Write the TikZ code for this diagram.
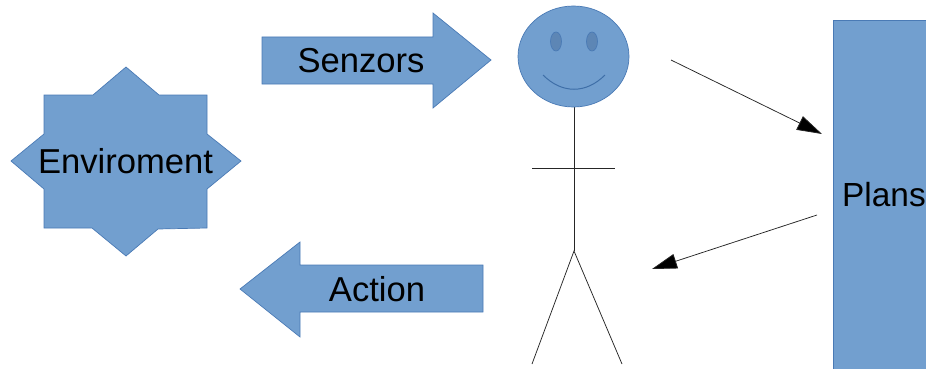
\documentclass[tikz,border=0pt]{standalone}
\usepackage{fontspec}
\setmainfont{Liberation Sans}
\usetikzlibrary{arrows.meta}
\definecolor{shapefill}{HTML}{729FCF}
\definecolor{shapeedge}{HTML}{4A7AB5}
\definecolor{faceline}{HTML}{3F6FA8}
\definecolor{eyefill}{HTML}{5D86B5}
\tikzset{
  blue shape/.style={fill=shapefill,draw=shapeedge,line width=0.7pt,line join=miter},
  thin line/.style={draw=black!85,line width=0.75pt},
  arrow line/.style={thin line,-{Triangle[length=25pt,width=15pt,fill=black]}},
  label text/.style={font=\fontsize{34.6pt}{40pt}\selectfont,text=black,inner sep=0pt,anchor=base},
}
\begin{document}
\begin{tikzpicture}[x=1pt,y=-1pt]
\useasboundingbox (0,0) rectangle (926,369);
\clip (0,0) rectangle (926,369);
% Environment star
\draw[blue shape] (126,67) -- (159,95) -- (207,95) -- (207,134) -- (241,161) -- (207,189) -- (207,228) -- (158,229) -- (126,256) -- (92,228) -- (44,228) -- (44,189) -- (11,161) -- (44,134) -- (44,95) -- (93,95) -- cycle;
\node[label text] (env) at (125.5,173) {Enviroment};
% Senzors arrow
\draw[blue shape] (262,37) -- (433,37) -- (433,13) -- (491,60) -- (433,108) -- (433,84) -- (262,84) -- cycle;
\node[label text] (sen) at (361,72) {Senzors};
% Action arrow
\draw[blue shape] (483,265) -- (300,265) -- (300,242) -- (240,289) -- (300,337) -- (300,312) -- (483,312) -- cycle;
\node[label text] (act) at (377,301) {Action};
% Plans
\draw[blue shape] (833,20) rectangle (940,380);
\node[label text,anchor=base west,font=\fontsize{33.4pt}{40pt}\selectfont] (plans) at (842,206) {Plans};
% Stick figure
\coordinate (neck) at (574,107);
\coordinate (hip) at (574,251);
\coordinate (armL) at (532,168.5);
\coordinate (armR) at (615,168.5);
\coordinate (footL) at (532,364);
\coordinate (footR) at (622,364);
\draw[thin line] (neck) -- (hip);
\draw[thin line] (armL) -- (armR);
\draw[thin line] (footL) -- (hip) -- (footR);
\draw[blue shape] (573.5,56.5) ellipse [x radius=55.5,y radius=50.5];
\draw[fill=eyefill,draw=shapeedge,line width=0.7pt] (556,41.5) ellipse [x radius=5.5,y radius=9.5];
\draw[fill=eyefill,draw=shapeedge,line width=0.7pt] (592,41.5) ellipse [x radius=5.5,y radius=9.5];
\draw[faceline,line width=1pt] (543,75) .. controls (562,94) and (586,94) .. (605,75);
% Arrows
\coordinate (a1s) at (671,60);
\coordinate (a1e) at (822,134);
\coordinate (a2s) at (817,215);
\coordinate (a2e) at (652,269);
\draw[arrow line] (a1s) -- (a1e);
\draw[arrow line] (a2s) -- (a2e);
\end{tikzpicture}
\end{document}
